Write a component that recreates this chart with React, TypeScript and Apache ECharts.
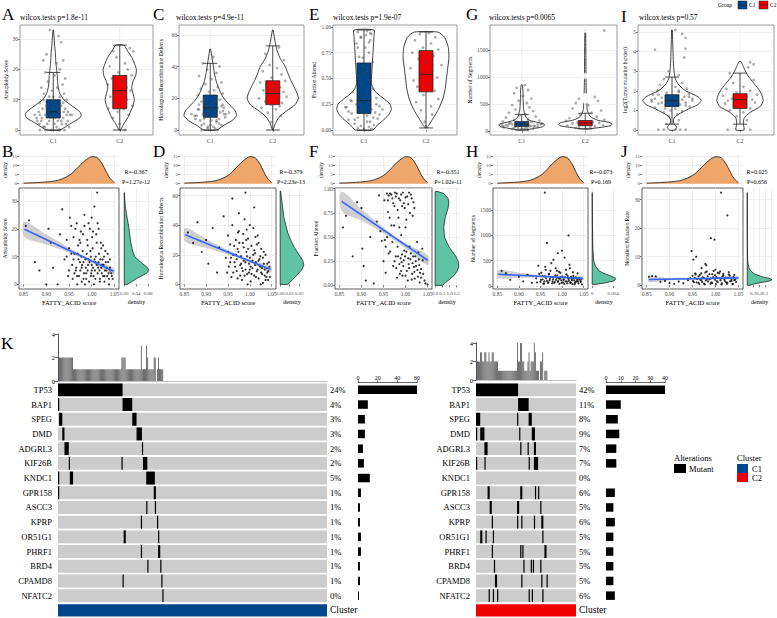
import React, { useEffect, useRef } from "react";
import * as echarts from "echarts";

/* ============ DATA: violin panels (A, C, E, G, I) ============ */
const GROUPS = ["C1", "C2"];

const A_TITLE = "wilcox.tests p=1.8e-11";
const A_YNAME = "Aneuploidy Score";
const A_YTICKS = [0, 10, 20, 30];
const A_BOX = [[0, 4, 6, 10, 19], [0, 7, 13, 18, 28]];
const A_VIOLIN_C1 = [[0, 0.1], [2, 0.25], [4, 0.4], [5, 0.42], [6, 0.4], [8, 0.28], [10, 0.16], [12, 0.1], [14, 0.075], [16, 0.065], [18, 0.06], [20, 0.05], [22, 0.04], [24, 0.035], [26, 0.03], [28, 0.02], [30, 0.015], [33, 0.003]];
const A_VIOLIN_C2 = [[0, 0.01], [2, 0.06], [4, 0.12], [6, 0.16], [8, 0.2], [10, 0.22], [12, 0.2], [14, 0.18], [16, 0.2], [18, 0.24], [20, 0.25], [22, 0.22], [24, 0.18], [26, 0.12], [28, 0.06]];
const A_POINTS_C1 = [[-0.05, 33], [0.12, 29], [0.08, 31], [-0.1, 25], [0.15, 23], [-0.15, 23], [0.05, 22], [0.1, 20], [-0.12, 19], [0.02, 18], [0.18, 17], [-0.08, 16], [0.14, 15], [-0.18, 14], [0.06, 14], [-0.02, 13], [0.16, 12], [-0.14, 12], [0.1, 11], [-0.06, 11], [0.2, 10], [-0.2, 9], [0.04, 9], [-0.1, 8], [0.12, 8], [0.18, 7], [-0.16, 7], [0, 7], [-0.08, 6], [0.08, 6], [0.2, 5], [-0.2, 5], [0.1, 5], [-0.12, 5], [0.03, 4], [-0.04, 4], [0.15, 4], [-0.18, 3], [0.07, 3], [-0.09, 2], [0.13, 2], [-0.15, 1], [0.05, 1], [-0.03, 0], [0.17, 0], [-0.12, 0], [0.09, 0],
  [0.22, 6], [-0.22, 6], [0.25, 5], [-0.25, 4], [0.28, 5], [-0.28, 5], [0.12, 3], [-0.06, 3], [0.19, 2], [-0.21, 2], [0.02, 2], [-0.13, 1], [0.24, 1], [0.1, 0], [-0.2, 0], [0.06, 8], [-0.15, 10], [0.15, 9], [0, 11], [-0.04, 5], [0.16, 6], [-0.17, 4], [0.09, 4], [0.22, 3], [-0.24, 3]];
const A_POINTS_C2 = [[0.15, 27], [-0.1, 26], [0.2, 26], [-0.05, 24], [0.08, 22], [-0.15, 21], [0.12, 20], [-0.02, 19], [0.18, 18], [-0.12, 17], [0.05, 16], [-0.18, 15], [0.1, 14], [-0.06, 13], [0.16, 13], [0.02, 12], [-0.14, 11], [0.11, 10], [-0.08, 9], [0.19, 8], [-0.17, 7], [0.06, 7], [-0.03, 6], [0.13, 5], [-0.1, 4], [0, 2], [0.08, 0]];
const A_OUTLIERS: number[][] = [];

const C_TITLE = "wilcox.tests p=4.9e-11";
const C_YNAME = "Homologous Recombination Defects";
const C_YTICKS = [0, 20, 40, 60];
const C_BOX = [[0, 8, 14, 22, 42], [0, 16, 23, 31, 53]];
const C_VIOLIN_C1 = [[0, 0.1], [3, 0.22], [6, 0.35], [9, 0.42], [12, 0.4], [15, 0.33], [18, 0.26], [21, 0.2], [24, 0.16], [27, 0.13], [30, 0.1], [35, 0.07], [40, 0.05], [45, 0.03], [51, 0.005]];
const C_VIOLIN_C2 = [[0, 0.005], [4, 0.04], [8, 0.1], [12, 0.22], [16, 0.36], [20, 0.41], [24, 0.38], [28, 0.33], [32, 0.28], [36, 0.24], [40, 0.2], [45, 0.12], [50, 0.07], [55, 0.04], [63, 0.005]];
const C_POINTS_C1 = [[0.05, 46], [-0.12, 42], [0.15, 40], [-0.05, 38], [0.1, 36], [-0.18, 34], [0.02, 32], [0.18, 30], [-0.08, 29], [0.12, 27], [-0.15, 26], [0.06, 25], [-0.02, 24], [0.2, 23], [-0.2, 22], [0.1, 21], [-0.1, 20], [0.15, 19], [-0.14, 18], [0.04, 17], [0.2, 16], [-0.06, 15], [0.12, 14], [-0.18, 13], [0.08, 12], [-0.02, 12], [0.16, 11], [-0.12, 10], [0.22, 10], [-0.22, 9], [0.05, 9], [-0.08, 8], [0.14, 7], [-0.16, 6], [0.02, 6], [0.1, 5], [-0.1, 4], [0.18, 3], [-0.04, 2], [0.08, 1], [-0.14, 0], [0.12, 0], [0, 3],
  [0.25, 10], [-0.25, 9], [0.3, 11], [-0.3, 10], [0.2, 12], [-0.2, 13], [0.24, 8], [-0.24, 7], [0.1, 6], [-0.1, 7], [0.18, 15], [-0.18, 16], [0.08, 18], [-0.05, 10], [0.02, 14], [0.14, 4], [-0.14, 3], [0.05, 2], [-0.04, 1], [0.22, 14]];
const C_POINTS_C2 = [[0.1, 52], [-0.12, 48], [0.18, 44], [-0.05, 41], [0.07, 39], [-0.16, 37], [0.14, 35], [-0.02, 33], [0.2, 31], [-0.2, 30], [0.04, 29], [-0.1, 28], [0.12, 27], [0, 26], [-0.15, 25], [0.17, 24], [0.06, 23], [-0.07, 22], [0.22, 21], [-0.22, 20], [0.09, 19], [-0.12, 18], [0.15, 17], [-0.03, 16], [0.11, 15], [-0.18, 14], [0.05, 13], [-0.08, 11], [0.13, 9], [-0.02, 5]];
const C_OUTLIERS: number[][] = [];

const E_TITLE = "wilcox.tests p=1.9e-07";
const E_YNAME = "Fraction Altered";
const E_YTICKS = [0, 0.25, 0.5, 0.75, 1.0];
const E_BOX = [[0, 0.16, 0.285, 0.65, 0.97], [0.02, 0.37, 0.54, 0.77, 0.95]];
const E_VIOLIN_C1 = [[0, 0.14], [0.05, 0.22], [0.1, 0.32], [0.15, 0.4], [0.2, 0.44], [0.25, 0.42], [0.3, 0.33], [0.35, 0.22], [0.4, 0.15], [0.45, 0.12], [0.5, 0.12], [0.6, 0.13], [0.7, 0.14], [0.8, 0.15], [0.9, 0.16], [0.97, 0.16]];
const E_VIOLIN_C2 = [[0.02, 0.01], [0.05, 0.05], [0.1, 0.1], [0.2, 0.2], [0.3, 0.27], [0.4, 0.31], [0.5, 0.33], [0.6, 0.35], [0.7, 0.37], [0.8, 0.36], [0.9, 0.3], [0.95, 0.19]];
const E_POINTS_C1 = [[0.05, 0.96], [-0.1, 0.95], [0.12, 0.93], [-0.05, 0.9], [0.1, 0.87], [-0.12, 0.84], [0.02, 0.8], [0.08, 0.75], [-0.08, 0.71], [0.14, 0.66], [-0.02, 0.62], [0.06, 0.57], [-0.1, 0.53], [0.1, 0.48], [-0.05, 0.44], [0.15, 0.4], [-0.18, 0.37], [0.03, 0.34], [0.2, 0.31], [-0.22, 0.29], [0.08, 0.27], [-0.12, 0.25], [0.25, 0.23], [-0.28, 0.22], [0.12, 0.2], [-0.05, 0.19], [0.18, 0.17], [-0.2, 0.16], [0.05, 0.14], [-0.1, 0.12], [0.22, 0.11], [-0.25, 0.1], [0.1, 0.08], [-0.15, 0.06], [0.16, 0.05], [-0.05, 0.04], [0.08, 0.03], [-0.1, 0.02], [0.12, 0.01], [0, 0.01], [-0.02, 0.7], [0.03, 0.92],
  [0.3, 0.2], [-0.3, 0.22], [0.25, 0.15], [-0.25, 0.18], [0.2, 0.25], [-0.2, 0.28], [0.1, 0.22], [-0.06, 0.26], [0, 0.3], [0.15, 0.12], [-0.15, 0.1], [0.05, 0.08], [-0.05, 0.9], [0.1, 0.94], [0.08, 0.85], [-0.1, 0.8], [0, 0.55], [0.05, 0.6]];
const E_POINTS_C2 = [[0.05, 0.94], [-0.1, 0.93], [0.15, 0.9], [-0.18, 0.87], [0.08, 0.84], [-0.05, 0.8], [0.2, 0.78], [-0.22, 0.75], [0.12, 0.72], [-0.12, 0.69], [0.02, 0.66], [0.25, 0.63], [-0.25, 0.6], [0.1, 0.57], [-0.08, 0.54], [0.18, 0.51], [-0.2, 0.48], [0.05, 0.45], [-0.14, 0.42], [0.14, 0.38], [-0.04, 0.34], [0.2, 0.3], [-0.16, 0.27], [0.08, 0.23], [-0.08, 0.19], [0.1, 0.15], [-0.02, 0.08], [0, 0.04]];
const E_OUTLIERS: number[][] = [];

const G_TITLE = "wilcox.tests p=0.0065";
const G_YNAME = "Number of Segments";
const G_YTICKS = [0, 500, 1000, 1500];
const G_BOX = [[20, 85, 130, 175, 310], [40, 100, 150, 195, 330]];
const G_VIOLIN_C1 = [[20, 0.05], [50, 0.2], [80, 0.33], [110, 0.36], [130, 0.35], [160, 0.25], [200, 0.12], [250, 0.07], [300, 0.05], [350, 0.04], [400, 0.03], [500, 0.025], [600, 0.02], [700, 0.02], [800, 0.015], [860, 0.005]];
const G_VIOLIN_C2 = [[40, 0.05], [70, 0.25], [100, 0.4], [130, 0.42], [160, 0.38], [200, 0.2], [250, 0.1], [300, 0.06], [400, 0.03], [500, 0.025], [600, 0.02], [800, 0.015], [1000, 0.012], [1400, 0.01], [1870, 0.005]];
const G_POINTS_C1 = [[0.05, 850], [-0.08, 800], [0.1, 760], [-0.12, 700], [0.02, 650], [0.15, 600], [-0.05, 560], [0.08, 520], [-0.15, 480], [0.12, 440], [-0.1, 400], [0.18, 370], [-0.2, 340], [0.05, 310], [-0.03, 290], [0.22, 270], [-0.25, 250], [0.1, 230], [-0.12, 210], [0.28, 195], [-0.3, 180], [0.15, 165], [-0.18, 150], [0.32, 140], [-0.32, 130], [0.05, 120], [-0.05, 115], [0.2, 105], [-0.22, 100], [0.12, 90], [-0.1, 85], [0.25, 75], [-0.28, 70], [0.08, 60], [-0.06, 55], [0.18, 45], [-0.15, 40], [0.02, 35], [-0.02, 30], [0.1, 25],
  [0.25, 120], [-0.25, 110], [0.3, 130], [-0.2, 140], [0.15, 95], [-0.15, 125], [0.08, 150], [-0.08, 170], [0.02, 100], [0.2, 80], [-0.3, 90], [0.1, 200], [-0.12, 60], [0.05, 50]];
const G_POINTS_C2 = [[0.3, 1860], [0.15, 630], [-0.1, 600], [0.2, 560], [-0.15, 520], [0.05, 480], [-0.2, 420], [0.25, 380], [0.1, 340], [-0.08, 300], [0.18, 270], [-0.25, 240], [0.3, 210], [-0.3, 190], [0.12, 170], [-0.12, 160], [0.22, 150], [-0.2, 140], [0.05, 130], [-0.05, 120], [0.28, 110], [-0.28, 100], [0.15, 90], [-0.1, 80], [0.08, 70], [-0.15, 60], [0.02, 45]];
const G_OUTLIERS = [[1, 1870], [1, 1020], [1, 650], [1, 620], [1, 560]];

const I_TITLE = "wilcox.tests p=0.57";
const I_YNAME = "log2(Tumor mutation burden)";
const I_YTICKS = [0, 1, 2, 3, 4, 5];
const I_BOX = [[0.3, 1.2, 1.5, 1.8, 2.7], [0.3, 1.1, 1.55, 1.85, 2.9]];
const I_VIOLIN_C1 = [[0, 0.04], [0.15, 0.07], [0.3, 0.03], [0.5, 0.02], [0.7, 0.05], [1.0, 0.2], [1.3, 0.38], [1.5, 0.43], [1.7, 0.38], [2.0, 0.2], [2.3, 0.1], [2.6, 0.05], [3.0, 0.03], [3.5, 0.02], [4.0, 0.015], [4.5, 0.01], [5.1, 0.005]];
const I_VIOLIN_C2 = [[0, 0.06], [0.3, 0.05], [0.6, 0.06], [0.9, 0.15], [1.2, 0.3], [1.5, 0.34], [1.8, 0.32], [2.1, 0.27], [2.4, 0.2], [2.7, 0.13], [3.0, 0.08], [3.3, 0.04], [3.5, 0.01]];
const I_POINTS_C1 = [[0.05, 5.1], [0.15, 4.9], [0.2, 4.7], [-0.25, 4.1], [0.2, 4.15], [0.18, 3.7], [-0.05, 3.0], [0.1, 2.8], [-0.12, 2.6], [0.15, 2.4], [-0.18, 2.3], [0.05, 2.2], [0.22, 2.1], [-0.22, 2.0], [0.1, 1.95], [-0.08, 1.9], [0.25, 1.85], [-0.28, 1.8], [0.02, 1.75], [0.18, 1.7], [-0.15, 1.65], [0.3, 1.6], [-0.3, 1.55], [0.08, 1.5], [-0.05, 1.45], [0.2, 1.4], [-0.2, 1.35], [0.12, 1.3], [-0.1, 1.25], [0.26, 1.2], [-0.25, 1.15], [0.05, 1.1], [-0.02, 1.0], [0.15, 0.95], [-0.12, 0.9], [0.08, 0.8], [-0.05, 0.7], [0.1, 0.5], [-0.08, 0.3], [0.12, 0.02], [-0.12, 0.02], [0.2, 0.02], [0.05, 0.02], [-0.2, 0.02],
  [0.3, 1.5], [-0.3, 1.45], [0.25, 1.7], [-0.25, 1.6], [0.15, 1.55], [-0.15, 1.4], [0.05, 1.35], [-0.05, 1.65], [0.2, 1.25], [-0.2, 1.8], [0.1, 2.0], [-0.1, 1.1]];
const I_POINTS_C2 = [[0.15, 3.45], [0.2, 3.35], [0.12, 3.2], [-0.15, 2.9], [0.2, 2.55], [-0.1, 2.4], [0.05, 2.2], [-0.2, 2.1], [0.15, 2.0], [-0.05, 1.9], [0.25, 1.8], [-0.25, 1.75], [0.1, 1.7], [-0.12, 1.6], [0.18, 1.55], [-0.18, 1.5], [0.02, 1.45], [0.22, 1.4], [-0.22, 1.35], [0.08, 1.3], [-0.08, 1.2], [0.15, 1.1], [-0.15, 1.0], [0.05, 0.9], [-0.05, 0.7], [0.1, 0.5], [-0.18, 0.02], [0.15, 0.02]];
const I_OUTLIERS: number[][] = [];

/* ============ DATA: scatter panels (B, D, F, H, J) ============ */
const FA_NAME = "FATTY_ACID score";
const FA_TICKS = [0.85, 0.9, 0.95, 1.0, 1.05];
const FA_DENSITY = [[0.85, 0.3], [0.88, 0.6], [0.91, 1.2], [0.93, 2.2], [0.95, 4.5], [0.96, 6.5], [0.97, 9], [0.98, 11.5], [0.99, 13.5], [1.0, 14.8], [1.01, 14.5], [1.02, 12], [1.03, 7.5], [1.04, 3], [1.05, 0.6]];
const TOP_DENS_TICKS = [0, 5, 10, 15];

const B_YNAME = "Aneuploidy Score";
const B_YTICKS = [0, 10, 20, 30];
const B_POINTS = [[0.855, 21], [0.862, 23], [0.875, 8], [0.885, 5], [0.9, 0], [0.905, 20], [0.91, 15], [0.915, 6], [0.925, 0], [0.93, 18], [0.935, 27], [0.94, 9], [0.945, 10], [0.948, 3], [0.95, 13], [0.952, 24], [0.955, 21], [0.957, 7], [0.96, 17], [0.962, 11], [0.965, 5], [0.967, 22], [0.97, 14], [0.972, 3], [0.974, 8], [0.976, 19], [0.978, 6], [0.98, 12], [0.982, 2], [0.984, 25], [0.986, 9], [0.988, 4], [0.99, 16], [0.992, 7], [0.994, 1], [0.996, 20], [0.998, 10], [1.0, 5], [1.002, 13], [1.004, 3], [1.006, 28], [1.008, 8], [1.01, 18], [1.012, 33], [1.014, 6], [1.016, 11], [1.018, 2], [1.02, 15], [1.022, 4], [1.024, 9], [1.026, 7], [1.028, 1], [1.03, 12], [1.032, 5], [1.034, 3], [1.036, 8], [1.038, 0], [1.04, 6], [1.043, 4], [1.046, 2], [0.968, 0], [0.985, 0], [1.005, 0], [0.993, 22], [1.015, 20], [0.975, 15], [1.025, 14], [0.945, 16], [1.0, 24],
  [0.962, 4], [0.966, 6], [0.971, 9], [0.975, 5], [0.979, 7], [0.983, 4], [0.987, 6], [0.991, 5], [0.995, 8], [0.999, 4], [1.003, 6], [1.007, 5], [1.011, 7], [1.013, 4], [1.017, 5], [1.021, 6], [1.025, 3], [1.029, 5], [1.033, 6], [1.037, 4], [1.041, 5], [1.044, 3], [0.969, 11], [0.977, 10], [0.989, 11], [0.997, 12], [1.009, 10], [1.019, 9], [1.027, 10], [1.035, 11], [0.973, 16], [0.981, 18], [0.991, 14], [1.001, 17], [1.011, 15], [1.021, 13], [0.964, 20], [0.984, 21], [1.003, 19], [1.013, 22], [0.958, 2], [0.968, 3], [0.978, 1], [0.988, 2], [0.998, 3], [1.008, 2], [1.018, 1], [1.028, 3], [1.038, 2], [0.96, 9], [0.95, 5], [0.955, 11], [1.0, 7], [1.015, 8], [1.023, 7], [1.031, 8], [1.04, 9], [0.993, 9], [0.982, 8], [1.006, 9]];
const B_FIT = [[0.852, 19.8], [1.048, 4.7]];
const B_BAND = [[0.852, 17.0, 22.6], [0.9, 14.3, 17.9], [0.95, 11.4, 13.2], [1.0, 7.8, 9.0], [1.048, 3.5, 5.9]];
const B_DENSITY = [[0, 0.01], [2, 0.04], [4, 0.075], [5, 0.082], [6, 0.078], [8, 0.055], [10, 0.035], [12, 0.028], [15, 0.022], [18, 0.018], [20, 0.016], [22, 0.013], [25, 0.008], [28, 0.004], [30, 0.002], [33, 0.0005]];
const B_DENS_TICKS = [0, 0.04, 0.08];
const B_STATS = ["R=-0.367", "P=1.27e-12"];

const D_YNAME = "Homologous Recombination Defects";
const D_YTICKS = [0, 20, 40, 60];
const D_POINTS = [[0.858, 35], [0.87, 28], [0.88, 42], [0.89, 22], [0.9, 30], [0.905, 14], [0.915, 38], [0.925, 8], [0.93, 25], [0.94, 46], [0.945, 18], [0.95, 33], [0.952, 12], [0.955, 27], [0.958, 5], [0.96, 40], [0.962, 20], [0.965, 15], [0.968, 30], [0.97, 9], [0.972, 24], [0.975, 36], [0.978, 13], [0.98, 19], [0.982, 3], [0.984, 28], [0.986, 16], [0.988, 44], [0.99, 10], [0.992, 22], [0.994, 7], [0.996, 31], [0.998, 14], [1.0, 18], [1.002, 2], [1.004, 26], [1.006, 11], [1.008, 38], [1.01, 6], [1.012, 21], [1.014, 15], [1.016, 9], [1.018, 33], [1.02, 4], [1.022, 17], [1.024, 12], [1.026, 24], [1.028, 7], [1.03, 1], [1.032, 14], [1.034, 10], [1.036, 20], [1.038, 5], [1.04, 8], [1.042, 3], [1.045, 12], [0.96, 58], [0.99, 62], [1.01, 52], [0.975, 48], [1.0, 40], [1.02, 28], [0.985, 34], [0.995, 0], [1.025, 0],
  [0.962, 8], [0.966, 12], [0.97, 17], [0.974, 22], [0.978, 6], [0.982, 11], [0.986, 25], [0.99, 15], [0.994, 19], [0.998, 8], [1.002, 12], [1.006, 16], [1.01, 23], [1.014, 5], [1.018, 10], [1.022, 13], [1.026, 8], [1.03, 18], [1.034, 6], [1.038, 11], [1.042, 9], [1.046, 5], [0.968, 20], [0.976, 28], [0.984, 9], [0.992, 30], [1.0, 10], [1.008, 20], [1.016, 27], [1.024, 19], [1.032, 22], [1.04, 14], [0.957, 18], [0.964, 26], [0.972, 4], [0.98, 14], [0.988, 6], [0.996, 24], [1.004, 7], [1.012, 13], [1.02, 16], [1.028, 11], [1.036, 3], [1.044, 15], [0.95, 22], [0.955, 15], [0.948, 8], [0.973, 35], [0.993, 37], [1.013, 32]];
const D_FIT = [[0.852, 33.5], [1.048, 10]];
const D_BAND = [[0.852, 29, 38], [0.9, 24.7, 30.7], [0.95, 20.1, 23.3], [1.0, 14.6, 16.8], [1.048, 8, 12]];
const D_DENSITY = [[0, 0.008], [5, 0.016], [10, 0.023], [13, 0.025], [16, 0.024], [20, 0.02], [25, 0.015], [30, 0.011], [35, 0.008], [40, 0.006], [45, 0.004], [50, 0.003], [55, 0.002], [60, 0.001], [63, 0.0005]];
const D_DENS_TICKS = [0, 0.01, 0.02];
const D_STATS = ["R=-0.379", "P=2.23e-13"];

const F_YNAME = "Fraction Altered";
const F_YTICKS = [0, 0.25, 0.5, 0.75, 1.0];
const F_POINTS = [[0.858, 0.6], [0.865, 0.72], [0.88, 0.3], [0.89, 0.86], [0.9, 0.8], [0.902, 0.38], [0.905, 0.2], [0.91, 0.05], [0.92, 0.5], [0.928, 0.02], [0.935, 0.66], [0.94, 0.93], [0.943, 0.56], [0.946, 0.46], [0.95, 0.25], [0.952, 0.88], [0.955, 0.13], [0.958, 0.5], [0.96, 0.76], [0.962, 0.93], [0.965, 0.35], [0.968, 0.62], [0.97, 0.9], [0.972, 0.2], [0.975, 0.82], [0.978, 0.3], [0.98, 0.95], [0.982, 0.4], [0.984, 0.7], [0.986, 0.22], [0.988, 0.88], [0.99, 0.15], [0.992, 0.32], [0.994, 0.96], [0.996, 0.26], [0.998, 0.8], [1.0, 0.1], [1.002, 0.35], [1.004, 0.92], [1.006, 0.28], [1.008, 0.18], [1.01, 0.75], [1.012, 0.33], [1.014, 0.06], [1.016, 0.23], [1.018, 0.86], [1.02, 0.14], [1.022, 0.3], [1.024, 0.2], [1.026, 0.45], [1.028, 0.09], [1.03, 0.27], [1.032, 0.03], [1.035, 0.17], [1.038, 0.38], [1.04, 0.12], [1.045, 0.02], [1.05, 0.01], [0.97, 0.45], [0.99, 0.52], [1.0, 0.6], [0.985, 0.9], [0.965, 0.95], [1.012, 0.94], [0.955, 0.4],
  [0.975, 0.25], [0.979, 0.18], [0.983, 0.3], [0.987, 0.12], [0.991, 0.24], [0.995, 0.2], [0.999, 0.3], [1.003, 0.15], [1.007, 0.22], [1.011, 0.27], [1.015, 0.12], [1.019, 0.19], [1.023, 0.25], [1.027, 0.16], [1.031, 0.21], [1.035, 0.08], [1.039, 0.26], [1.043, 0.05], [0.981, 0.08], [0.993, 0.1], [1.005, 0.05], [1.017, 0.3], [1.029, 0.34], [0.997, 0.36], [1.009, 0.4], [0.989, 0.28], [1.021, 0.07], [1.033, 0.13], [0.96, 0.88], [0.968, 0.94], [0.972, 0.85], [0.978, 0.92], [0.982, 0.78], [0.99, 0.94], [0.996, 0.85], [1.0, 0.91], [1.006, 0.84], [1.014, 0.9], [1.02, 0.8], [0.958, 0.95], [0.976, 0.96], [0.992, 0.82], [1.008, 0.96], [1.016, 0.72], [0.964, 0.7], [0.974, 0.62], [0.986, 0.6], [1.002, 0.68], [0.953, 0.47], [0.962, 0.33], [0.966, 0.52]];
const F_FIT = [[0.855, 0.87], [1.05, 0.26]];
const F_BAND = [[0.855, 0.77, 0.97], [0.9, 0.67, 0.79], [0.95, 0.54, 0.6], [1.0, 0.385, 0.435], [1.05, 0.21, 0.31]];
const F_DENSITY = [[0, 0.5], [0.05, 0.9], [0.1, 1.3], [0.15, 1.55], [0.2, 1.65], [0.25, 1.6], [0.3, 1.45], [0.35, 1.2], [0.4, 0.95], [0.5, 0.65], [0.6, 0.6], [0.7, 0.7], [0.8, 0.9], [0.85, 0.95], [0.9, 0.9], [0.95, 0.6], [0.97, 0.2]];
const F_DENS_TICKS = [0, 0.5, 1.0, 1.5];
const F_STATS = ["R=-0.351", "P=1.02e-11"];

const H_YNAME = "Number of Segments";
const H_YTICKS = [0, 500, 1000, 1500];
const H_POINTS = [[0.86, 300], [0.87, 250], [0.88, 120], [0.9, 180], [0.91, 90], [0.92, 220], [0.93, 60], [0.94, 150], [0.945, 400], [0.95, 80], [0.952, 260], [0.955, 130], [0.958, 50], [0.96, 190], [0.962, 320], [0.965, 100], [0.968, 70], [0.97, 240], [0.972, 140], [0.975, 450], [0.978, 90], [0.98, 170], [0.982, 60], [0.984, 210], [0.986, 120], [0.988, 300], [0.99, 80], [0.992, 150], [0.994, 40], [0.996, 260], [0.998, 110], [1.0, 190], [1.002, 70], [1.004, 130], [1.006, 560], [1.008, 90], [1.01, 230], [1.012, 50], [1.014, 160], [1.016, 100], [1.018, 350], [1.02, 70], [1.022, 140], [1.024, 40], [1.026, 200], [1.028, 110], [1.03, 60], [1.032, 170], [1.034, 90], [1.036, 250], [1.038, 50], [1.04, 130], [1.043, 80], [1.046, 30], [0.965, 850], [0.99, 650], [1.015, 1000], [0.96, 1850], [1.0, 700], [0.98, 520],
  [0.951, 120], [0.955, 200], [0.959, 90], [0.963, 150], [0.967, 60], [0.971, 110], [0.975, 180], [0.979, 130], [0.983, 80], [0.987, 160], [0.991, 100], [0.995, 140], [0.999, 60], [1.003, 120], [1.007, 170], [1.011, 90], [1.015, 130], [1.019, 60], [1.023, 110], [1.027, 150], [1.031, 80], [1.035, 120], [1.039, 160], [1.043, 100], [0.957, 40], [0.969, 230], [0.977, 50], [0.989, 210], [0.997, 170], [1.005, 40], [1.013, 200], [1.021, 180], [1.029, 30], [1.037, 90], [1.045, 140], [0.973, 300], [0.993, 280], [1.009, 320], [1.025, 270], [0.961, 380], [0.985, 350], [1.017, 420], [0.947, 240], [0.942, 70]];
const H_FIT = [[0.852, 230], [1.048, 150]];
const H_BAND = [[0.852, 150, 310], [0.9, 160, 260], [0.95, 165, 215], [1.0, 152, 188], [1.048, 110, 190]];
const H_DENSITY = [[30, 0.0005], [50, 0.002], [100, 0.0042], [150, 0.0045], [200, 0.0035], [250, 0.0022], [300, 0.0013], [400, 0.0006], [500, 0.0003], [700, 0.00015], [900, 0.0001], [1200, 0.00005], [1500, 0.00003], [1850, 0.00001]];
const H_DENS_TICKS = [0, 0.004];
const H_STATS = ["R=-0.073", "P=0.169"];

const J_YNAME = "Nonsilent Mutation Rate";
const J_YTICKS = [0, 10, 20, 30];
const J_POINTS = [[0.855, 3], [0.862, 3.2], [0.87, 3.1], [0.88, 1.2], [0.89, 1.5], [0.9, 0.8], [0.91, 0.5], [0.92, 1.3], [0.93, 0.7], [0.94, 1.8], [0.945, 2.5], [0.95, 3.3], [0.953, 1.1], [0.956, 4.1], [0.96, 2.2], [0.963, 0.9], [0.966, 3.6], [0.969, 1.7], [0.972, 2.8], [0.975, 0.6], [0.978, 4.5], [0.981, 2.0], [0.984, 1.3], [0.987, 3.9], [0.99, 2.4], [0.993, 0.8], [0.996, 5.0], [0.999, 1.9], [1.002, 2.9], [1.005, 1.1], [1.008, 4.2], [1.011, 2.3], [1.014, 0.7], [1.017, 3.4], [1.02, 1.6], [1.023, 2.7], [1.026, 0.9], [1.029, 3.8], [1.032, 1.4], [1.035, 2.2], [1.038, 0.5], [1.041, 1.8], [1.045, 1.2], [1.012, 32.5], [1.026, 24.5], [0.99, 16.5], [0.998, 16], [0.948, 12], [0.952, 9], [0.958, 10], [0.978, 7.5], [0.98, 7], [0.97, 6], [1.0, 5.5], [1.01, 4.8],
  [0.951, 1.5], [0.955, 2.6], [0.959, 1.0], [0.963, 3.1], [0.967, 2.0], [0.971, 1.2], [0.975, 2.6], [0.979, 1.7], [0.983, 3.2], [0.987, 2.1], [0.991, 1.0], [0.995, 2.8], [0.999, 3.5], [1.003, 1.4], [1.007, 2.6], [1.011, 1.7], [1.015, 3.0], [1.019, 2.2], [1.023, 1.1], [1.027, 2.5], [1.031, 3.3], [1.035, 1.5], [1.039, 2.9], [1.043, 2.0], [0.957, 3.8], [0.969, 4.2], [0.981, 4.8], [0.993, 3.9], [1.005, 4.4], [1.017, 4.0], [1.029, 4.6], [1.041, 3.6], [0.965, 0.4], [0.977, 0.3], [0.989, 0.5], [1.001, 0.4], [1.013, 0.3], [1.025, 0.5], [1.037, 0.4]];
const J_FIT = [[0.855, 2.0], [1.05, 2.6]];
const J_BAND = [[0.855, 1.1, 2.9], [0.9, 1.64, 2.64], [0.95, 1.99, 2.59], [1.0, 2.13, 2.73], [1.05, 2.1, 3.1]];
const J_DENSITY = [[0, 0.05], [0.5, 0.12], [1, 0.25], [1.5, 0.38], [2, 0.42], [2.5, 0.36], [3, 0.25], [4, 0.12], [5, 0.06], [6, 0.03], [8, 0.01], [10, 0.005], [15, 0.002], [20, 0.001], [25, 0.0005], [32.5, 0.0002]];
const J_DENS_TICKS = [0, 0.1, 0.2, 0.3, 0.4];
const J_STATS = ["R=0.025", "P=0.656"];

/* ============ DATA: oncoprint (K) ============ */
const GENES = ["TP53", "BAP1", "SPEG", "DMD", "ADGRL3", "KIF26B", "KNDC1", "GPR158", "ASCC3", "KPRP", "OR51G1", "PHRF1", "BRD4", "CPAMD8", "NFATC2"];
const C1_SAMPLES = 250;
const C2_SAMPLES = 95;
const C1_PCT = ["24%", "4%", "3%", "3%", "2%", "2%", "5%", "1%", "1%", "1%", "1%", "1%", "1%", "1%", "0%"];
const C2_PCT = ["42%", "11%", "8%", "9%", "7%", "7%", "0%", "6%", "5%", "6%", "5%", "5%", "5%", "5%", "6%"];
// mutated samples per gene, as runs [firstSample, runLength]
const C1_MUT_RUNS = [
  [[0, 60]],
  [[0, 1], [60, 9]],
  [[1, 3], [69, 4]],
  [[4, 2], [73, 5]],
  [[6, 4], [78, 1]],
  [[10, 1], [59, 1], [79, 4]],
  [[0, 1], [11, 3], [82, 8]],
  [[0, 1], [89, 2]],
  [[82, 1], [90, 1]],
  [[77, 1], [92, 1]],
  [[61, 2], [93, 1]],
  [[77, 1], [93, 2]],
  [[83, 1], [95, 1]],
  [[60, 1], [96, 1]],
  [[97, 1]],
];
const C2_MUT_RUNS = [
  [[0, 40]],
  [[40, 10]],
  [[0, 4], [39, 1], [50, 3]],
  [[0, 1], [4, 4], [41, 1], [53, 3]],
  [[8, 3], [42, 1], [49, 1], [55, 2]],
  [[0, 1], [8, 1], [50, 1], [55, 4]],
  [],
  [[11, 2], [42, 2], [56, 1], [59, 1]],
  [[13, 2], [39, 2], [61, 1]],
  [[15, 1], [39, 1], [43, 1], [55, 1], [62, 2]],
  [[4, 2], [9, 1], [16, 1], [63, 1]],
  [[15, 1], [42, 1], [44, 1], [65, 2]],
  [[17, 1], [45, 1], [52, 1], [54, 1], [61, 1]],
  [[18, 2], [43, 1], [62, 1], [67, 1]],
  [[12, 1], [16, 1], [20, 1], [50, 1], [53, 1], [63, 1]],
];
const C1_COUNT_TICKS = [0, 20, 40, 60];
const C2_COUNT_TICKS = [0, 10, 20, 30, 40];

/* ============ styles & layout ============ */
const FONT = "'Liberation Serif', 'DejaVu Serif', serif";
const BLUE = "#00468B";
const RED = "#ED0000";
const ORANGE = "#EFA66B";
const GREEN = "#5FC3A4";
const GRID_LINE = "#E6E6E6";
const TICK_TXT = "#4D4D4D";

const VIOLIN_PANELS = [
  { title: A_TITLE, yName: A_YNAME, yTicks: A_YTICKS, box: A_BOX, violins: [A_VIOLIN_C1, A_VIOLIN_C2], points: [A_POINTS_C1, A_POINTS_C2], outliers: A_OUTLIERS, dec: -1 },
  { title: C_TITLE, yName: C_YNAME, yTicks: C_YTICKS, box: C_BOX, violins: [C_VIOLIN_C1, C_VIOLIN_C2], points: [C_POINTS_C1, C_POINTS_C2], outliers: C_OUTLIERS, dec: -1 },
  { title: E_TITLE, yName: E_YNAME, yTicks: E_YTICKS, box: E_BOX, violins: [E_VIOLIN_C1, E_VIOLIN_C2], points: [E_POINTS_C1, E_POINTS_C2], outliers: E_OUTLIERS, dec: 2 },
  { title: G_TITLE, yName: G_YNAME, yTicks: G_YTICKS, box: G_BOX, violins: [G_VIOLIN_C1, G_VIOLIN_C2], points: [G_POINTS_C1, G_POINTS_C2], outliers: G_OUTLIERS, dec: -1 },
  { title: I_TITLE, yName: I_YNAME, yTicks: I_YTICKS, box: I_BOX, violins: [I_VIOLIN_C1, I_VIOLIN_C2], points: [I_POINTS_C1, I_POINTS_C2], outliers: I_OUTLIERS, dec: -1 },
];
const VIOLIN_LAYOUT = [
  { left: 20, width: 133, gap: 10, letter: "A", lx: 2, ly: 14, tx: 20 },
  { left: 179, width: 125, gap: 15, letter: "C", lx: 153, ly: 14, tx: 176 },
  { left: 333, width: 124, gap: 14, letter: "E", lx: 309, ly: 14, tx: 333 },
  { left: 490, width: 127, gap: 17, letter: "G", lx: 466, ly: 14, tx: 489 },
  { left: 638, width: 136, gap: 10, letter: "I", lx: 621, ly: 16, tx: 639 },
];

const SCATTER_PANELS = [
  { yName: B_YNAME, yTicks: B_YTICKS, points: B_POINTS, fit: B_FIT, band: B_BAND, dens: B_DENSITY, densTicks: B_DENS_TICKS, densDec: 2, stats: B_STATS, dec: -1 },
  { yName: D_YNAME, yTicks: D_YTICKS, points: D_POINTS, fit: D_FIT, band: D_BAND, dens: D_DENSITY, densTicks: D_DENS_TICKS, densDec: 2, stats: D_STATS, dec: -1 },
  { yName: F_YNAME, yTicks: F_YTICKS, points: F_POINTS, fit: F_FIT, band: F_BAND, dens: F_DENSITY, densTicks: F_DENS_TICKS, densDec: 1, stats: F_STATS, dec: 2 },
  { yName: H_YNAME, yTicks: H_YTICKS, points: H_POINTS, fit: H_FIT, band: H_BAND, dens: H_DENSITY, densTicks: H_DENS_TICKS, densDec: -1, stats: H_STATS, dec: -1 },
  { yName: J_YNAME, yTicks: J_YTICKS, points: J_POINTS, fit: J_FIT, band: J_BAND, dens: J_DENSITY, densTicks: J_DENS_TICKS, densDec: 1, stats: J_STATS, dec: -1 },
];
const SCATTER_LAYOUT = [
  { left: 19, width: 100, dLeft: 123, dWidth: 27, gap: 11, letter: "B", lx: 2, sx: 136 },
  { left: 180, width: 96, dLeft: 279, dWidth: 26, gap: 16, letter: "D", lx: 153, sx: 291 },
  { left: 335, width: 97, dLeft: 434, dWidth: 26, gap: 15, letter: "F", lx: 309, sx: 448 },
  { left: 493, width: 95, dLeft: 591, dWidth: 26, gap: 17, letter: "H", lx: 466, sx: 601 },
  { left: 642, width: 101, dLeft: 746, dWidth: 29, gap: 12, letter: "J", lx: 621, sx: 757 },
];

const ONCO = [
  { n: C1_SAMPLES, runs: C1_MUT_RUNS, pct: C1_PCT, color: BLUE, ticks: C1_COUNT_TICKS },
  { n: C2_SAMPLES, runs: C2_MUT_RUNS, pct: C2_PCT, color: RED, ticks: C2_COUNT_TICKS },
];
const ONCO_LAYOUT = [
  { left: 58, width: 269, barTop: 334, barH: 47, rLeft: 358, rWidth: 59 },
  { left: 476, width: 100, barTop: 343, barH: 37, rLeft: 606, rWidth: 59 },
];
const ONCO_TOP = 382.5;
const ONCO_H = 235.2;

/* ============ helpers ============ */
function expand(lo: number, hi: number) {
  const d = (hi - lo) * 0.05;
  return [lo - d, hi + d];
}
function fmt(dec: number) {
  return (v: number) => (dec < 0 ? String(v) : Number(v).toFixed(dec));
}
function runSamples(runs: number[][]) {
  const s = new Set<number>();
  runs.forEach(([a, l]) => {
    for (let i = a; i < a + l; i++) s.add(i);
  });
  return s;
}
function txt(x: number, y: number, text: string, fontSize: number, align = "left", fill = "#000") {
  return {
    type: "text",
    x,
    y,
    silent: true,
    style: { text, fontSize, fontFamily: FONT, fill, textAlign: align, textVerticalAlign: "middle", align, verticalAlign: "middle" },
  };
}

function valueAxis(gi: number, range: number[], ticks: number[], o: any = {}) {
  return {
    type: "value",
    gridIndex: gi,
    min: range[0],
    max: range[1],
    position: o.position,
    axisLine: { show: false },
    axisTick: { show: o.ticks !== false, length: 2, customValues: ticks, lineStyle: { color: "#333", width: 0.6 } },
    axisLabel: { show: o.labels !== false, customValues: ticks, fontSize: o.fs || 5.5, color: TICK_TXT, margin: 2, formatter: o.fmt },
    splitLine: { show: o.split !== false, lineStyle: { color: GRID_LINE, width: 0.6 } },
    name: o.name,
    nameLocation: "middle",
    nameGap: o.gap,
    nameTextStyle: { fontSize: o.nfs || 5.5, color: "#000", fontFamily: FONT },
  };
}

function buildOption() {
  const grid: any[] = [];
  const xAxis: any[] = [];
  const yAxis: any[] = [];
  const series: any[] = [];
  const graphic: any[] = [];
  const addGrid = (g: any) => (grid.push(g), grid.length - 1);
  const addX = (a: any) => (xAxis.push(a), xAxis.length - 1);
  const addY = (a: any) => (yAxis.push(a), yAxis.length - 1);

  /* ---- violin panels ---- */
  VIOLIN_PANELS.forEach((p, k) => {
    const L = VIOLIN_LAYOUT[k];
    const gi = addGrid({ left: L.left, top: 25, width: L.width, height: 110, show: true, borderColor: "#808080", borderWidth: 0.8, backgroundColor: "#fff" });
    const xi = addX({
      type: "category", gridIndex: gi, data: GROUPS,
      axisLine: { show: false },
      axisTick: { show: true, alignWithLabel: true, length: 2, lineStyle: { color: "#333", width: 0.6 } },
      axisLabel: { fontSize: 6, color: TICK_TXT, margin: 3 },
      splitLine: { show: false },
    });
    const allY = p.violins.flat().map((d) => d[0]);
    const yr = expand(Math.min(...allY), Math.max(...allY));
    const yi = addY(valueAxis(gi, yr, p.yTicks, { name: p.yName, gap: L.gap, fmt: fmt(p.dec) }));
    const violins = p.violins;
    series.push({
      type: "custom", xAxisIndex: xi, yAxisIndex: yi, z: 1, silent: true,
      data: [[0, 0], [1, 0]],
      renderItem: (params: any, api: any) => {
        const c = params.dataIndex;
        const shape = violins[c];
        const band = api.size([1, 0])[0];
        const cs = params.coordSys;
        const cx = api.coord([c, shape[0][0]])[0];
        const right = shape.map(([y, w]: number[]) => {
          const q = api.coord([c, y]);
          return [q[0] + w * band, q[1]];
        });
        const left = shape.slice().reverse().map(([y, w]: number[]) => {
          const q = api.coord([c, y]);
          return [q[0] - w * band, q[1]];
        });
        return {
          type: "group",
          children: [
            { type: "line", shape: { x1: cx, y1: cs.y, x2: cx, y2: cs.y + cs.height }, style: { stroke: GRID_LINE, lineWidth: 0.6 } },
            { type: "polygon", shape: { points: right.concat(left), smooth: 0.2 }, style: { fill: "rgba(255,255,255,0)", stroke: "#111", lineWidth: 0.8 } },
          ],
        };
      },
    });
    series.push({
      type: "boxplot", xAxisIndex: xi, yAxisIndex: yi, z: 2, silent: true,
      boxWidth: [14, 14],
      data: p.box.map((b, c) => ({ value: b, itemStyle: { color: c === 0 ? BLUE : RED, borderColor: "#222", borderWidth: 0.8 } })),
    });
    const pts: number[][] = [];
    p.points.forEach((arr, c) => arr.forEach(([j, v]) => pts.push([c, v, j])));
    series.push({
      type: "custom", xAxisIndex: xi, yAxisIndex: yi, z: 3, silent: true,
      data: pts,
      renderItem: (params: any, api: any) => {
        const band = api.size([1, 0])[0];
        const q = api.coord([api.value(0), api.value(1)]);
        return { type: "circle", shape: { cx: q[0] + api.value(2) * band, cy: q[1], r: 1.4 }, style: { fill: "rgba(70,70,70,0.45)" } };
      },
    });
    if (p.outliers.length) {
      series.push({
        type: "scatter", xAxisIndex: xi, yAxisIndex: yi, z: 4, silent: true,
        data: p.outliers, symbol: "emptyCircle", symbolSize: 4,
        itemStyle: { color: "#fff", borderColor: "#333", borderWidth: 0.8 },
      });
    }
    graphic.push(txt(L.lx, L.ly, L.letter, 17));
    graphic.push(txt(L.tx, 17, p.title, 7.5));
  });

  /* ---- scatter panels ---- */
  const faRange = [0.84, 1.06];
  const densTop = 155, densH = 30;
  const scTop = 188, scH = 101;
  SCATTER_PANELS.forEach((p, k) => {
    const L = SCATTER_LAYOUT[k];
    const ys = p.points.map((d) => d[1]);
    const yr = expand(Math.min(...ys), Math.max(...ys));
    // scatter
    const gi = addGrid({ left: L.left, top: scTop, width: L.width, height: scH, show: true, borderColor: "#333", borderWidth: 0.8, backgroundColor: "#fff" });
    const xi = addX(valueAxis(gi, faRange, FA_TICKS, { name: FA_NAME, gap: 10, nfs: 6.5, fmt: fmt(2) }));
    const yi = addY(valueAxis(gi, yr, p.yTicks, { name: p.yName, gap: L.gap, fmt: fmt(p.dec) }));
    const band = p.band;
    series.push({
      type: "custom", xAxisIndex: xi, yAxisIndex: yi, z: 1, silent: true, data: [[0.9, 0]],
      renderItem: (params: any, api: any) => {
        const up = band.map((b: number[]) => api.coord([b[0], b[2]]));
        const lo = band.slice().reverse().map((b: number[]) => api.coord([b[0], b[1]]));
        return { type: "polygon", shape: { points: up.concat(lo), smooth: 0.3 }, style: { fill: "rgba(150,150,150,0.45)" } };
      },
    });
    series.push({
      type: "scatter", xAxisIndex: xi, yAxisIndex: yi, z: 2, silent: true,
      data: p.points, symbolSize: 2.2, itemStyle: { color: "#000" },
    });
    series.push({
      type: "line", xAxisIndex: xi, yAxisIndex: yi, z: 3, silent: true,
      data: p.fit, symbol: "none", lineStyle: { color: "#3366FF", width: 1.6 },
    });
    // top density
    const tg = addGrid({ left: L.left, top: densTop, width: L.width, height: densH });
    const txi = addX(valueAxis(tg, faRange, FA_TICKS, { labels: false, ticks: false }));
    const tyi = addY(valueAxis(tg, [-0.75, 15.75], TOP_DENS_TICKS, { name: "density", gap: 10, fs: 5 }));
    series.push({
      type: "line", xAxisIndex: txi, yAxisIndex: tyi, silent: true, smooth: 0.4,
      data: FA_DENSITY, symbol: "none",
      lineStyle: { color: "#111", width: 0.8 },
      areaStyle: { color: ORANGE, opacity: 1 },
    });
    // right density
    const dmax = Math.max(...p.dens.map((d) => d[1]));
    const rg = addGrid({ left: L.dLeft, top: scTop, width: L.dWidth, height: scH });
    const rxi = addX(valueAxis(rg, [-0.05 * dmax, 1.05 * dmax], p.densTicks, { name: "density", gap: 10, nfs: 6, fs: 5, fmt: fmt(p.densDec) }));
    const ryi = addY(valueAxis(rg, yr, p.yTicks, { labels: false, ticks: false }));
    const dens = p.dens;
    series.push({
      type: "custom", xAxisIndex: rxi, yAxisIndex: ryi, silent: true, data: [[0, dens[0][0]]],
      renderItem: (params: any, api: any) => {
        const pts = [api.coord([0, dens[0][0]])];
        dens.forEach(([v, d]: number[]) => pts.push(api.coord([d, v])));
        pts.push(api.coord([0, dens[dens.length - 1][0]]));
        return { type: "polygon", shape: { points: pts }, style: { fill: GREEN, stroke: "#111", lineWidth: 0.7 } };
      },
    });
    graphic.push(txt(L.lx, 151, L.letter, 17));
    graphic.push(txt(L.sx, 172, p.stats[0], 6, "center"));
    graphic.push(txt(L.sx, 182, p.stats[1], 6, "center"));
  });

  /* ---- oncoprint ---- */
  const rowCats = GENES.concat(["Cluster"]);
  ONCO.forEach((o, k) => {
    const L = ONCO_LAYOUT[k];
    const gi = addGrid({ left: L.left, top: ONCO_TOP, width: L.width, height: ONCO_H });
    const xi = addX({ type: "value", gridIndex: gi, min: 0, max: o.n, show: false, splitLine: { show: false } });
    const yl = addY({
      type: "category", gridIndex: gi, data: rowCats, inverse: true, position: "left",
      axisLine: { show: false }, axisTick: { show: false }, splitLine: { show: false },
      axisLabel: { fontSize: 8.5, color: "#000", margin: 6, formatter: (v: string) => (v === "Cluster" ? "" : v) },
    });
    const pct = o.pct;
    addY({
      type: "category", gridIndex: gi, data: rowCats, inverse: true, position: "right",
      axisLine: { show: false }, axisTick: { show: false }, splitLine: { show: false },
      axisLabel: {
        fontSize: 8.5, color: "#000", margin: 3, align: "left",
        formatter: (v: string, i: number) => (i < pct.length ? pct[i] : "{c|Cluster}"),
        rich: { c: { fontSize: 9.5, fontFamily: FONT, color: "#000" } },
      },
    });
    const n = o.n;
    // grey background rows
    series.push({
      type: "custom", xAxisIndex: xi, yAxisIndex: yl, silent: true, z: 1,
      data: GENES.map((_, g) => [0, g, n]),
      renderItem: (params: any, api: any) => {
        const g = api.value(1);
        const a = api.coord([api.value(0), g]);
        const b = api.coord([api.value(0) + api.value(2), g]);
        const h = api.size([0, 1])[1] * 0.88;
        return { type: "rect", shape: { x: a[0], y: a[1] - h / 2, width: b[0] - a[0], height: h }, style: { fill: "#CCCCCC" } };
      },
    });
    // mutations
    const muts: number[][] = [];
    o.runs.forEach((runs, g) => runs.forEach(([s, l]) => muts.push([s, g, l])));
    series.push({
      type: "custom", xAxisIndex: xi, yAxisIndex: yl, silent: true, z: 2,
      data: muts,
      renderItem: (params: any, api: any) => {
        const g = api.value(1);
        const a = api.coord([api.value(0), g]);
        const b = api.coord([api.value(0) + api.value(2), g]);
        const h = api.size([0, 1])[1] * 0.88;
        return { type: "rect", shape: { x: a[0], y: a[1] - h / 2, width: Math.max(b[0] - a[0], 1.2), height: h }, style: { fill: "#000" } };
      },
    });
    // cluster annotation row
    const col = o.color;
    series.push({
      type: "custom", xAxisIndex: xi, yAxisIndex: yl, silent: true, z: 2,
      data: [[0, GENES.length, n]],
      renderItem: (params: any, api: any) => {
        const g = api.value(1);
        const a = api.coord([api.value(0), g]);
        const b = api.coord([api.value(0) + api.value(2), g]);
        const h = api.size([0, 1])[1] * 0.82;
        return { type: "rect", shape: { x: a[0], y: a[1] - h / 2, width: b[0] - a[0], height: h }, style: { fill: col } };
      },
    });
    // per-sample mutation counts (top bars)
    const counts = new Array(n).fill(0);
    o.runs.forEach((runs) => runSamples(runs).forEach((i) => counts[i]++));
    const tg = addGrid({ left: L.left, top: L.barTop, width: L.width, height: L.barH });
    const txi = addX({ type: "value", gridIndex: tg, min: 0, max: n, axisLine: { show: true, lineStyle: { color: "#999", width: 0.6 } }, axisTick: { show: false }, axisLabel: { show: false }, splitLine: { show: false } });
    const tyi = addY({
      type: "value", gridIndex: tg, min: 0, max: 4, interval: 2,
      axisLine: { show: true, lineStyle: { color: "#000", width: 0.6 } },
      axisTick: { show: true, length: 3, lineStyle: { color: "#000", width: 0.6 } },
      axisLabel: { fontSize: 6.5, color: "#000", margin: 3 },
      splitLine: { show: false },
    });
    series.push({
      type: "custom", xAxisIndex: txi, yAxisIndex: tyi, silent: true,
      data: counts.map((c, i) => [i, c]).filter((d) => d[1] > 0),
      renderItem: (params: any, api: any) => {
        const a = api.coord([api.value(0), api.value(1)]);
        const b = api.coord([api.value(0) + 1, 0]);
        return { type: "rect", shape: { x: a[0], y: a[1], width: (b[0] - a[0]) * 0.75, height: b[1] - a[1] }, style: { fill: "#4D4D4D" } };
      },
    });
    // per-gene counts (right bars)
    const geneCounts = o.runs.map((runs) => runSamples(runs).size);
    const rg = addGrid({ left: L.rLeft, top: ONCO_TOP, width: L.rWidth, height: ONCO_H });
    const tk = o.ticks;
    const rxi = addX({
      type: "value", gridIndex: rg, position: "top", min: 0, max: tk[tk.length - 1], interval: tk[1] - tk[0],
      axisLine: { show: true, lineStyle: { color: "#000", width: 0.6 } },
      axisTick: { show: true, length: 2, lineStyle: { color: "#000", width: 0.6 } },
      axisLabel: { fontSize: 6, color: "#000", margin: 2 },
      splitLine: { show: false },
    });
    const ryi = addY({ type: "category", gridIndex: rg, data: rowCats, inverse: true, show: false });
    series.push({
      type: "bar", xAxisIndex: rxi, yAxisIndex: ryi, silent: true,
      data: geneCounts, barWidth: 8.5, itemStyle: { color: "#000" },
    });
  });

  /* ---- free texts & legends ---- */
  graphic.push(txt(1, 343, "K", 17));
  graphic.push(txt(718, 5, "Group", 5.5));
  graphic.push({ type: "rect", shape: { x: 738, y: 1, width: 9, height: 8 }, style: { fill: BLUE, stroke: "#222", lineWidth: 0.5 } });
  graphic.push({ type: "line", shape: { x1: 738, y1: 5, x2: 747, y2: 5 }, style: { stroke: "#222", lineWidth: 0.6 } });
  graphic.push(txt(749, 5, "C1", 5.5));
  graphic.push({ type: "rect", shape: { x: 759, y: 1, width: 9, height: 8 }, style: { fill: RED, stroke: "#222", lineWidth: 0.5 } });
  graphic.push({ type: "line", shape: { x1: 759, y1: 5, x2: 768, y2: 5 }, style: { stroke: "#222", lineWidth: 0.6 } });
  graphic.push(txt(770, 5, "C2", 5.5));
  graphic.push(txt(674, 458, "Alterations", 8.5));
  graphic.push({ type: "rect", shape: { x: 674, y: 464, width: 12, height: 9 }, style: { fill: "#000" } });
  graphic.push(txt(689, 469, "Mutant", 8.5));
  graphic.push(txt(737, 458, "Cluster", 8.5));
  graphic.push({ type: "rect", shape: { x: 737, y: 464, width: 11, height: 9 }, style: { fill: BLUE } });
  graphic.push(txt(752, 469, "C1", 8.5));
  graphic.push({ type: "rect", shape: { x: 737, y: 473, width: 11, height: 9 }, style: { fill: RED } });
  graphic.push(txt(752, 478, "C2", 8.5));

  return {
    animation: false,
    backgroundColor: "#fff",
    textStyle: { fontFamily: FONT },
    grid,
    xAxis,
    yAxis,
    series,
    graphic,
  };
}

export default function App() {
  const ref = useRef<HTMLDivElement>(null);
  useEffect(() => {
    if (!ref.current) return;
    const chart = echarts.init(ref.current, undefined, { renderer: "svg" });
    chart.setOption(buildOption() as any);
    return () => chart.dispose();
  }, []);
  return <div ref={ref} style={{ position: "fixed", left: 0, top: 0, width: 777, height: 618, background: "#fff" }} />;
}
